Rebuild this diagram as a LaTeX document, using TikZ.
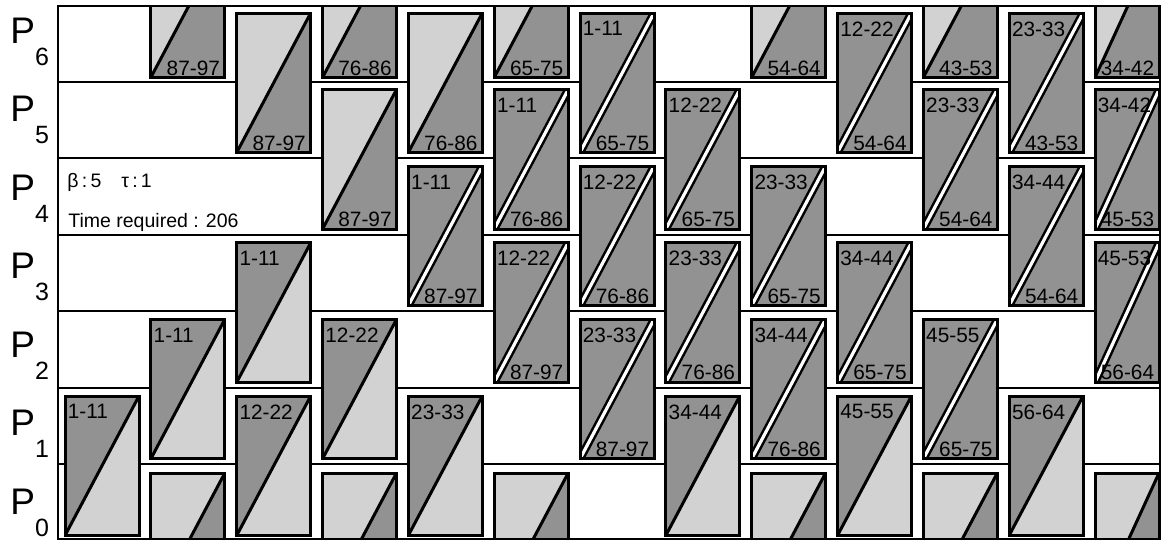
\documentclass[tikz,border=0pt]{standalone}
\usepackage{fontspec}
\setmainfont{Liberation Sans}
\usepackage{xcolor}
\usetikzlibrary{positioning}
\definecolor{shdark}{HTML}{929292}
\definecolor{shlight}{HTML}{D2D2D2}

\begin{document}
\begin{tikzpicture}[
    x=0.5pt,y=-0.5pt,
    every node/.style={font=\fontsize{10.4}{12}\selectfont,inner sep=0pt},
    cell/.style={rectangle,draw,line width=1.5pt,minimum width=37pt,
      minimum height=69.75pt,anchor=north west},
    split/.style n args={3}{path picture={
        \fill[#1] (path picture bounding box.north west) -- (path picture bounding box.north east)
          -- (path picture bounding box.south west) -- cycle;
        \fill[#2] (path picture bounding box.north east) -- (path picture bounding box.south east)
          -- (path picture bounding box.south west) -- cycle;
        \draw[#3] (path picture bounding box.south west) -- (path picture bounding box.north east);}},
    cellA/.style={cell,split={shdark}{shlight}{line width=1.5pt}},
    cellB/.style={cell,split={shlight}{shdark}{line width=1.5pt}},
    cellC/.style={cell,split={shdark}{shdark}{line width=1.25pt,double=white,double distance=1.6pt}},
    narrow/.style={minimum width=32pt},
    toplab/.style={below right=4.8pt and 2pt of #1},
    botlab/.style={above left=1.7pt and 3pt of #1},
    plabel/.style={anchor=base west,font=\fontsize{18.5}{20}\selectfont},
    note/.style={anchor=base west,font=\fontsize{9.75}{11}\selectfont},
    rowline/.style={line width=1pt},
  ]
  \useasboundingbox (0,0) rectangle (1163,542);
  \fill[white] (0,0) rectangle (1163,542);
  % processor rows
  \draw[rowline] (58,82) -- (1160,82) (58,158.4) -- (1160,158.4) (58,234.8) -- (1160,234.8)
    (58,311.2) -- (1160,311.2) (58,387.6) -- (1160,387.6) (58,464) -- (1160,464);
  \node[plabel] (p6) at (10,43) {P\raisebox{-11pt}{\fontsize{12.5}{13}\selectfont 6}};
  \node[plabel] (p5) at (10,121.5) {P\raisebox{-11pt}{\fontsize{12.5}{13}\selectfont 5}};
  \node[plabel] (p4) at (10,200) {P\raisebox{-11pt}{\fontsize{12.5}{13}\selectfont 4}};
  \node[plabel] (p3) at (10,278.5) {P\raisebox{-11pt}{\fontsize{12.5}{13}\selectfont 3}};
  \node[plabel] (p2) at (10,357) {P\raisebox{-11pt}{\fontsize{12.5}{13}\selectfont 2}};
  \node[plabel] (p1) at (10,435.5) {P\raisebox{-11pt}{\fontsize{12.5}{13}\selectfont 1}};
  \node[plabel] (p0) at (10,514) {P\raisebox{-11pt}{\fontsize{12.5}{13}\selectfont 0}};
  \node[note] (params) at (67,187) {β\,:\,5\hspace{10pt}τ\,:\,1};
  \node[note] (time) at (68,227) {Time required : 206};
  \begin{scope}
    \clip (58,6) rectangle (1160,539);
    \node[cellA] (b0r1) at (63.5,394.5) {};
    \node[cellB] (b1r7) at (149.3,-63.5) {};
    \node[cellA] (b1r2) at (149.3,317.9) {};
    \node[cellB] (b1r0) at (149.3,471.5) {};
    \node[cellB] (b2r6) at (235.2,11.5) {};
    \node[cellA] (b2r3) at (235.2,241.3) {};
    \node[cellA] (b2r1) at (235.2,394.5) {};
    \node[cellB] (b3r7) at (321,-63.5) {};
    \node[cellB] (b3r5) at (321,88.1) {};
    \node[cellA] (b3r2) at (321,317.9) {};
    \node[cellB] (b3r0) at (321,471.5) {};
    \node[cellB] (b4r6) at (406.8,11.5) {};
    \node[cellC] (b4r4) at (406.8,164.7) {};
    \node[cellA] (b4r1) at (406.8,394.5) {};
    \node[cellB] (b5r7) at (492.7,-63.5) {};
    \node[cellC] (b5r5) at (492.7,88.1) {};
    \node[cellC] (b5r3) at (492.7,241.3) {};
    \node[cellB] (b5r0) at (492.7,471.5) {};
    \node[cellC] (b6r6) at (578.5,11.5) {};
    \node[cellC] (b6r4) at (578.5,164.7) {};
    \node[cellC] (b6r2) at (578.5,317.9) {};
    \node[cellC] (b7r5) at (664.3,88.1) {};
    \node[cellC] (b7r3) at (664.3,241.3) {};
    \node[cellA] (b7r1) at (664.3,394.5) {};
    \node[cellB] (b8r7) at (750.1,-63.5) {};
    \node[cellC] (b8r4) at (750.1,164.7) {};
    \node[cellC] (b8r2) at (750.1,317.9) {};
    \node[cellB] (b8r0) at (750.1,471.5) {};
    \node[cellC] (b9r6) at (836,11.5) {};
    \node[cellC] (b9r3) at (836,241.3) {};
    \node[cellA] (b9r1) at (836,394.5) {};
    \node[cellB] (b10r7) at (921.8,-63.5) {};
    \node[cellC] (b10r5) at (921.8,88.1) {};
    \node[cellC] (b10r2) at (921.8,317.9) {};
    \node[cellB] (b10r0) at (921.8,471.5) {};
    \node[cellC] (b11r6) at (1007.6,11.5) {};
    \node[cellC] (b11r4) at (1007.6,164.7) {};
    \node[cellA] (b11r1) at (1007.6,394.5) {};
    \node[cellB,narrow] (b12r7) at (1093.5,-63.5) {};
    \node[cellC,narrow] (b12r5) at (1093.5,88.1) {};
    \node[cellC,narrow] (b12r3) at (1093.5,241.3) {};
    \node[cellB,narrow] (b12r0) at (1093.5,471.5) {};
  \end{scope}
  \draw[line width=1pt] (58,6) rectangle (1160,539);
  % first block of each task
  \node[toplab=b0r1.north west] (t0r1) {1-11};
  \node[toplab=b1r2.north west] (t1r2) {1-11};
  \node[toplab=b2r3.north west] (t2r3) {1-11};
  \node[toplab=b2r1.north west] (t2r1) {12-22};
  \node[toplab=b3r2.north west] (t3r2) {12-22};
  \node[toplab=b4r4.north west] (t4r4) {1-11};
  \node[toplab=b4r1.north west] (t4r1) {23-33};
  \node[toplab=b5r5.north west] (t5r5) {1-11};
  \node[toplab=b5r3.north west] (t5r3) {12-22};
  \node[toplab=b6r6.north west] (t6r6) {1-11};
  \node[toplab=b6r4.north west] (t6r4) {12-22};
  \node[toplab=b6r2.north west] (t6r2) {23-33};
  \node[toplab=b7r5.north west] (t7r5) {12-22};
  \node[toplab=b7r3.north west] (t7r3) {23-33};
  \node[toplab=b7r1.north west] (t7r1) {34-44};
  \node[toplab=b8r4.north west] (t8r4) {23-33};
  \node[toplab=b8r2.north west] (t8r2) {34-44};
  \node[toplab=b9r6.north west] (t9r6) {12-22};
  \node[toplab=b9r3.north west] (t9r3) {34-44};
  \node[toplab=b9r1.north west] (t9r1) {45-55};
  \node[toplab=b10r5.north west] (t10r5) {23-33};
  \node[toplab=b10r2.north west] (t10r2) {45-55};
  \node[toplab=b11r6.north west] (t11r6) {23-33};
  \node[toplab=b11r4.north west] (t11r4) {34-44};
  \node[toplab=b11r1.north west] (t11r1) {56-64};
  \node[toplab=b12r5.north west] (t12r5) {34-42};
  \node[toplab=b12r3.north west] (t12r3) {45-53};
  % second block of each task
  \node[botlab=b1r7.south east] (u1r7) {87-97};
  \node[botlab=b2r6.south east] (u2r6) {87-97};
  \node[botlab=b3r7.south east] (u3r7) {76-86};
  \node[botlab=b3r5.south east] (u3r5) {87-97};
  \node[botlab=b4r6.south east] (u4r6) {76-86};
  \node[botlab=b4r4.south east] (u4r4) {87-97};
  \node[botlab=b5r7.south east] (u5r7) {65-75};
  \node[botlab=b5r5.south east] (u5r5) {76-86};
  \node[botlab=b5r3.south east] (u5r3) {87-97};
  \node[botlab=b6r6.south east] (u6r6) {65-75};
  \node[botlab=b6r4.south east] (u6r4) {76-86};
  \node[botlab=b6r2.south east] (u6r2) {87-97};
  \node[botlab=b7r5.south east] (u7r5) {65-75};
  \node[botlab=b7r3.south east] (u7r3) {76-86};
  \node[botlab=b8r7.south east] (u8r7) {54-64};
  \node[botlab=b8r4.south east] (u8r4) {65-75};
  \node[botlab=b8r2.south east] (u8r2) {76-86};
  \node[botlab=b9r6.south east] (u9r6) {54-64};
  \node[botlab=b9r3.south east] (u9r3) {65-75};
  \node[botlab=b10r7.south east] (u10r7) {43-53};
  \node[botlab=b10r5.south east] (u10r5) {54-64};
  \node[botlab=b10r2.south east] (u10r2) {65-75};
  \node[botlab=b11r6.south east] (u11r6) {43-53};
  \node[botlab=b11r4.south east] (u11r4) {54-64};
  \node[botlab=b12r7.south east] (u12r7) {34-42};
  \node[botlab=b12r5.south east] (u12r5) {45-53};
  \node[botlab=b12r3.south east] (u12r3) {56-64};
\end{tikzpicture}
\end{document}
